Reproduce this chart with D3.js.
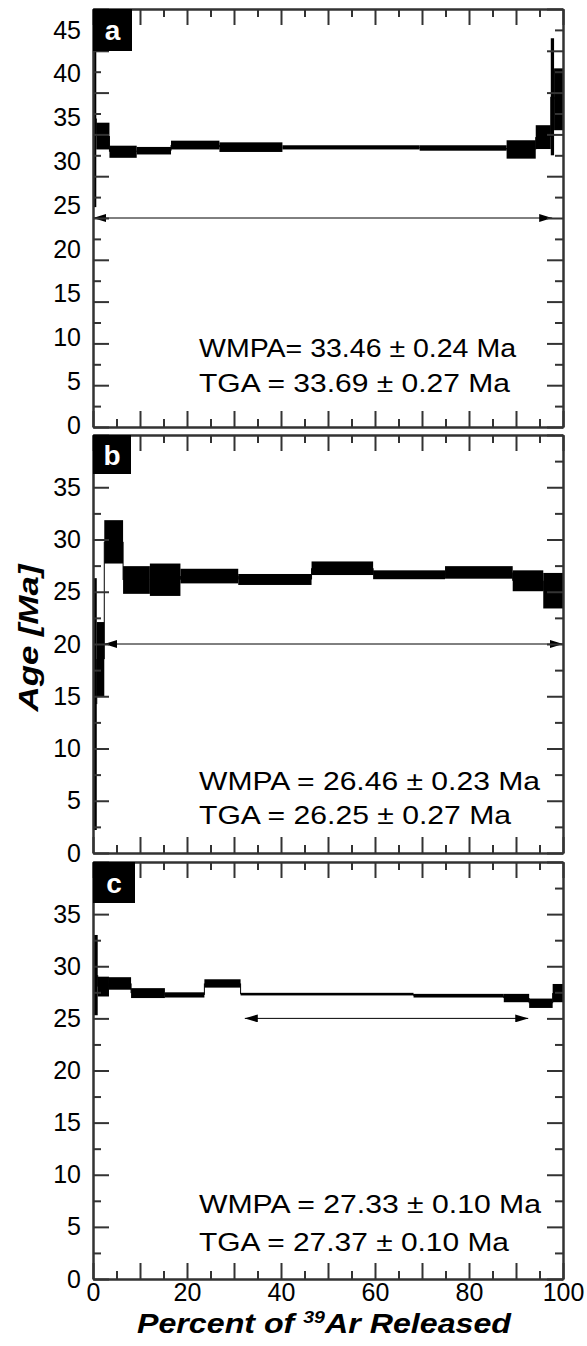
<!DOCTYPE html>
<meta charset="utf-8">
<style>
body { margin: 0; background: #fff; }
text { font-family: "Liberation Sans", Arial, Helvetica, sans-serif; }
.axis { color: #000; }
.axis path, .axis line { stroke: #333; stroke-width: 2px; }
.axis text { font-size: 25px; fill: #000; }
.step { fill: #000; }
.conn { stroke: #000; stroke-width: 1px; }
.plateau { stroke: #000; stroke-width: 1px; }
.stats { font-size: 26px; fill: #000; }
.title { font-size: 28px; font-weight: bold; font-style: italic; }
</style>
<svg width="587" height="1346"></svg>
<script src="https://d3js.org/d3.v7.min.js"></script>
<script>

// cumulative % 39Ar at the step boundaries, 2-sigma age envelope of each step (Ma)
var cumA = [0, 0.7, 3.5, 9.3, 16.6, 26.9, 40.3, 69.5, 88.0, 94.2, 97.4, 98.1, 100];
var loA  = [26.3, 33.2, 32.2, 32.6, 33.2, 32.9, 33.2, 33.05, 32.1, 33.25, 32.5, 35.5];
var hiA  = [47.5, 36.4, 33.65, 33.5, 34.25, 34.05, 33.7, 33.7, 34.3, 36.1, 46.5, 42.9];

var cumB = [0, 0.8, 2.4, 6.4, 12.1, 18.6, 30.9, 46.5, 59.6, 74.9, 89.3, 95.8, 100];
var loB  = [2.2, 15.0, 27.7, 24.8, 24.6, 25.8, 25.65, 26.6, 26.2, 26.25, 25.05, 23.4];
var hiB  = [26.3, 22.1, 31.85, 27.45, 27.7, 27.2, 26.7, 27.9, 27.05, 27.45, 27.05, 26.8];

var cumC = [0, 1.0, 3.4, 8.1, 15.3, 23.7, 31.4, 68.2, 87.4, 92.8, 97.8, 100];
var loC  = [25.3, 27.1, 27.75, 26.95, 27.0, 27.95, 27.2, 27.0, 26.55, 26.0, 26.55];
var hiC  = [33.0, 29.0, 28.95, 27.9, 27.5, 28.75, 27.45, 27.35, 27.35, 26.9, 28.3];

// plateau arrows: [start %, end %, age]
var plateauA = [0, 97.7, 25];
var plateauB = [2.4, 100, 20];
var plateauC = [32.3, 92.6, 25];

var statsA = ["WMPA= 33.46 \u00b1 0.24 Ma", "TGA = 33.69 \u00b1 0.27 Ma"];
var statsB = ["WMPA = 26.46 \u00b1 0.23 Ma", "TGA = 26.25 \u00b1 0.27 Ma"];
var statsC = ["WMPA = 27.33 \u00b1 0.10 Ma", "TGA = 27.37 \u00b1 0.10 Ma"];

var yLabelsA = [0, 5, 10, 15, 20, 25, 30, 35, 40, 45];
var yLabelsBC = [0, 5, 10, 15, 20, 25, 30, 35];
var xLabels = [0, 20, 40, 60, 80, 100];

var svg = d3.select("svg");
var left = 93, right = 563;

var x = d3.scaleLinear().domain([0, 100]).range([left, right]);

// arrowheads
var defs = svg.append("defs");
defs.append("marker").attr("id", "head")
    .attr("markerUnits", "userSpaceOnUse")
    .attr("viewBox", "0 0 13 8").attr("refX", 13).attr("refY", 4)
    .attr("markerWidth", 13).attr("markerHeight", 8)
    .attr("orient", "auto-start-reverse")
  .append("path").attr("d", "M0,0L13,4L0,8Z").attr("fill", "#000");

var panels = [
  {name: "a", top: 9, bottom: 427, ymax: 50, cum: cumA, lo: loA, hi: hiA, plateau: plateauA,
   stats: statsA, statsW: [317, 311], statsY: [357, 392], labels: yLabelsA, box: [39, 42],
   labelScale: d3.scaleLinear().domain([0, 45]).range([425, 30])},
  {name: "b", top: 435, bottom: 853, ymax: 40, cum: cumB, lo: loB, hi: hiB, plateau: plateauB,
   stats: statsB, statsW: [341, 312], statsY: [790, 824], labels: yLabelsBC, box: [38, 39]},
  {name: "c", top: 862, bottom: 1279, ymax: 40, cum: cumC, lo: loC, hi: hiC, plateau: plateauC,
   stats: statsC, statsW: [342, 310], statsY: [1213, 1251], labels: yLabelsBC, box: [42, 41],
   xlabels: true}
];

panels.forEach(function(p) {
  var y = d3.scaleLinear().domain([0, p.ymax]).range([p.bottom, p.top]);
  var g = svg.append("g");

  var steps = p.lo.map(function(d, i) {
    return {x0: p.cum[i], x1: p.cum[i + 1], lo: p.lo[i], hi: p.hi[i]};
  });

  // thin connectors between step midpoints
  var conns = [];
  for (var i = 1; i < steps.length; i++) {
    conns.push({x: steps[i].x0,
                a: (steps[i - 1].lo + steps[i - 1].hi) / 2,
                b: (steps[i].lo + steps[i].hi) / 2});
  }
  g.selectAll("line.conn").data(conns).enter().append("line")
      .attr("class", "conn")
      .attr("x1", function(d) { return x(d.x); })
      .attr("x2", function(d) { return x(d.x); })
      .attr("y1", function(d) { return y(d.a); })
      .attr("y2", function(d) { return y(d.b); });

  g.selectAll("rect.step").data(steps).enter().append("rect")
      .attr("class", "step")
      .attr("x", function(d) { return x(d.x0); })
      .attr("width", function(d) { return x(d.x1) - x(d.x0); })
      .attr("y", function(d) { return y(d.hi); })
      .attr("height", function(d) { return y(d.lo) - y(d.hi); });

  // plateau arrow
  g.append("line").attr("class", "plateau")
      .attr("x1", x(p.plateau[0])).attr("x2", x(p.plateau[1]))
      .attr("y1", y(p.plateau[2])).attr("y2", y(p.plateau[2]))
      .attr("marker-start", "url(#head)")
      .attr("marker-end", "url(#head)");

  // axes, ticks pointing inward
  var majY = d3.range(0, p.ymax + 0.01, 5), minY = d3.range(2.5, p.ymax, 5);
  var majX = d3.range(0, 101, 10), minX = d3.range(5, 100, 10);

  function ax(axis, tr) {
    return g.append("g").attr("class", "axis").attr("transform", tr).call(axis);
  }
  ax(d3.axisLeft(y).tickValues(minY).tickSizeInner(-8).tickSizeOuter(0).tickFormat(""), "translate(" + left + ",0)");
  ax(d3.axisRight(y).tickValues(minY).tickSizeInner(-8).tickSizeOuter(0).tickFormat(""), "translate(" + right + ",0)");
  ax(d3.axisRight(y).tickValues(majY).tickSizeInner(-16).tickSizeOuter(0).tickFormat(""), "translate(" + right + ",0)");
  ax(d3.axisTop(x).tickValues(minX).tickSizeInner(-8).tickSizeOuter(0).tickFormat(""), "translate(0," + p.top + ")");
  ax(d3.axisTop(x).tickValues(majX).tickSizeInner(-16).tickSizeOuter(0).tickFormat(""), "translate(0," + p.top + ")");
  ax(d3.axisBottom(x).tickValues(minX).tickSizeInner(-8).tickSizeOuter(0).tickFormat(""), "translate(0," + p.bottom + ")");
  ax(d3.axisBottom(x).tickValues(majX).tickSizeInner(-16).tickSizeOuter(0).tickPadding(4)
      .tickFormat(function(d) { return p.xlabels && xLabels.indexOf(d) >= 0 ? d : ""; }),
     "translate(0," + p.bottom + ")");

  if (p.labelScale) {
    ax(d3.axisLeft(y).tickValues(majY).tickSizeInner(-16).tickSizeOuter(0).tickFormat(""), "translate(" + left + ",0)");
    var la = ax(d3.axisLeft(p.labelScale).tickValues(p.labels).tickSize(0).tickPadding(12), "translate(" + left + ",0)");
    la.select(".domain").remove();
  } else {
    ax(d3.axisLeft(y).tickValues(majY).tickSizeInner(-16).tickSizeOuter(0).tickPadding(12)
        .tickFormat(function(d) { return p.labels.indexOf(d) >= 0 ? d : ""; }), "translate(" + left + ",0)");
  }

  // panel letter
  g.append("rect").attr("x", left).attr("y", p.top)
      .attr("width", p.box[0]).attr("height", p.box[1]).attr("fill", "#000");
  g.append("text").attr("x", left + p.box[0] / 2).attr("y", p.top + p.box[1] / 2 + 10)
      .attr("text-anchor", "middle").attr("fill", "#fff")
      .attr("font-size", 28).attr("font-weight", "bold").text(p.name);

  // stats
  p.stats.forEach(function(s, i) {
    g.append("text").attr("class", "stats")
        .attr("x", 199).attr("y", p.statsY[i])
        .attr("textLength", p.statsW[i]).attr("lengthAdjust", "spacingAndGlyphs")
        .text(s);
  });
});

// axis titles
svg.append("text").attr("class", "title")
    .attr("transform", "translate(38,638) rotate(-90)")
    .attr("text-anchor", "middle")
    .attr("textLength", 147).attr("lengthAdjust", "spacingAndGlyphs")
    .text("Age [Ma]");

var xt = svg.append("text").attr("class", "title")
    .attr("x", 137).attr("y", 1333)
    .attr("textLength", 374).attr("lengthAdjust", "spacingAndGlyphs");
xt.append("tspan").text("Percent of ");
xt.append("tspan").attr("font-size", 17).attr("dy", -10).text("39");
xt.append("tspan").attr("dy", 10).text("Ar Released");

</script>
